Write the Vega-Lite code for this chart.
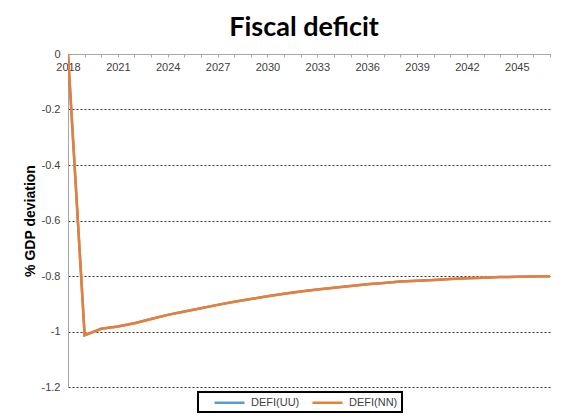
{
  "$schema": "https://vega.github.io/schema/vega-lite/v6.json",
  "width": 482,
  "height": 333,
  "autosize": "none",
  "padding": {"left": 68, "top": 54, "right": 34, "bottom": 33},
  "background": "white",
  "title": {
    "text": "Fiscal deficit",
    "font": "Lato",
    "fontSize": 27,
    "fontWeight": "bold",
    "color": "black",
    "anchor": "middle",
    "baseline": "bottom",
    "offset": 14,
    "dx": -5,
    "dy": 35
  },
  "config": {
    "view": {"stroke": null},
    "axis": {"labelFont": "Liberation Sans", "labelFontSize": 11, "labelColor": "#404040", "titleFont": "Liberation Sans"},
    "legend": {"labelFont": "Liberation Sans", "strokeWidth": 2}
  },
  "data": {
    "values": [
      {"year": 2018, "series": "DEFI(UU)", "value": 0},
      {"year": 2019, "series": "DEFI(UU)", "value": -1.013},
      {"year": 2020, "series": "DEFI(UU)", "value": -0.99},
      {"year": 2021, "series": "DEFI(UU)", "value": -0.982},
      {"year": 2022, "series": "DEFI(UU)", "value": -0.97},
      {"year": 2023, "series": "DEFI(UU)", "value": -0.955},
      {"year": 2024, "series": "DEFI(UU)", "value": -0.94},
      {"year": 2025, "series": "DEFI(UU)", "value": -0.928},
      {"year": 2026, "series": "DEFI(UU)", "value": -0.916},
      {"year": 2027, "series": "DEFI(UU)", "value": -0.904},
      {"year": 2028, "series": "DEFI(UU)", "value": -0.893},
      {"year": 2029, "series": "DEFI(UU)", "value": -0.883},
      {"year": 2030, "series": "DEFI(UU)", "value": -0.873},
      {"year": 2031, "series": "DEFI(UU)", "value": -0.864},
      {"year": 2032, "series": "DEFI(UU)", "value": -0.856},
      {"year": 2033, "series": "DEFI(UU)", "value": -0.849},
      {"year": 2034, "series": "DEFI(UU)", "value": -0.842},
      {"year": 2035, "series": "DEFI(UU)", "value": -0.836},
      {"year": 2036, "series": "DEFI(UU)", "value": -0.83},
      {"year": 2037, "series": "DEFI(UU)", "value": -0.825},
      {"year": 2038, "series": "DEFI(UU)", "value": -0.82},
      {"year": 2039, "series": "DEFI(UU)", "value": -0.817},
      {"year": 2040, "series": "DEFI(UU)", "value": -0.814},
      {"year": 2041, "series": "DEFI(UU)", "value": -0.811},
      {"year": 2042, "series": "DEFI(UU)", "value": -0.808},
      {"year": 2043, "series": "DEFI(UU)", "value": -0.806},
      {"year": 2044, "series": "DEFI(UU)", "value": -0.804},
      {"year": 2045, "series": "DEFI(UU)", "value": -0.803},
      {"year": 2046, "series": "DEFI(UU)", "value": -0.802},
      {"year": 2047, "series": "DEFI(UU)", "value": -0.801},
      {"year": 2018, "series": "DEFI(NN)", "value": 0},
      {"year": 2019, "series": "DEFI(NN)", "value": -1.013},
      {"year": 2020, "series": "DEFI(NN)", "value": -0.99},
      {"year": 2021, "series": "DEFI(NN)", "value": -0.982},
      {"year": 2022, "series": "DEFI(NN)", "value": -0.97},
      {"year": 2023, "series": "DEFI(NN)", "value": -0.955},
      {"year": 2024, "series": "DEFI(NN)", "value": -0.94},
      {"year": 2025, "series": "DEFI(NN)", "value": -0.928},
      {"year": 2026, "series": "DEFI(NN)", "value": -0.916},
      {"year": 2027, "series": "DEFI(NN)", "value": -0.904},
      {"year": 2028, "series": "DEFI(NN)", "value": -0.893},
      {"year": 2029, "series": "DEFI(NN)", "value": -0.883},
      {"year": 2030, "series": "DEFI(NN)", "value": -0.873},
      {"year": 2031, "series": "DEFI(NN)", "value": -0.864},
      {"year": 2032, "series": "DEFI(NN)", "value": -0.856},
      {"year": 2033, "series": "DEFI(NN)", "value": -0.849},
      {"year": 2034, "series": "DEFI(NN)", "value": -0.842},
      {"year": 2035, "series": "DEFI(NN)", "value": -0.836},
      {"year": 2036, "series": "DEFI(NN)", "value": -0.83},
      {"year": 2037, "series": "DEFI(NN)", "value": -0.825},
      {"year": 2038, "series": "DEFI(NN)", "value": -0.82},
      {"year": 2039, "series": "DEFI(NN)", "value": -0.817},
      {"year": 2040, "series": "DEFI(NN)", "value": -0.814},
      {"year": 2041, "series": "DEFI(NN)", "value": -0.811},
      {"year": 2042, "series": "DEFI(NN)", "value": -0.808},
      {"year": 2043, "series": "DEFI(NN)", "value": -0.806},
      {"year": 2044, "series": "DEFI(NN)", "value": -0.804},
      {"year": 2045, "series": "DEFI(NN)", "value": -0.803},
      {"year": 2046, "series": "DEFI(NN)", "value": -0.802},
      {"year": 2047, "series": "DEFI(NN)", "value": -0.801}
    ]
  },
  "mark": {"type": "line", "strokeWidth": 2.5, "clip": true},
  "encoding": {
    "x": {
      "field": "year",
      "type": "quantitative",
      "scale": {"domain": [2018, 2047], "nice": false, "zero": false},
      "axis": {
        "orient": "bottom",
        "offset": -333,
        "title": null,
        "values": [2018,2019,2020,2021,2022,2023,2024,2025,2026,2027,2028,2029,2030,2031,2032,2033,2034,2035,2036,2037,2038,2039,2040,2041,2042,2043,2044,2045,2046,2047],
        "labelExpr": "(datum.value - 2018) % 3 == 0 ? '' + datum.value : ''",
        "grid": false,
        "domainColor": "#A6A6A6",
        "tickColor": "#A6A6A6",
        "tickSize": 3,
        "labelPadding": 4,
        "labelOverlap": false,
        "labelFlush": false
      }
    },
    "y": {
      "field": "value",
      "type": "quantitative",
      "scale": {"domain": [-1.2, 0], "nice": false},
      "axis": {
        "values": [0, -0.2, -0.4, -0.6, -0.8, -1, -1.2],
        "labelExpr": "datum.value == 0 ? '0' : '-' + format(-datum.value, '.1~f')",
        "title": "% GDP deviation",
        "titleFontSize": 14,
        "titleFontWeight": "bold",
        "titleColor": "black",
        "titlePadding": 4,
        "grid": true,
        "gridColor": "black",
        "gridDash": [2, 2],
        "gridWidth": 0.8,
        "ticks": false,
        "domainColor": "#A6A6A6",
        "labelPadding": 8
      }
    },
    "color": {
      "field": "series",
      "type": "nominal",
      "scale": {"domain": ["DEFI(UU)", "DEFI(NN)"], "range": ["#5B9BD5", "#ED7D31"]},
      "legend": {
        "title": null,
        "orient": "none",
        "legendX": 130,
        "legendY": 338,
        "direction": "horizontal",
        "symbolType": "M0,0H6",
        "symbolSize": 100,
        "symbolOffset": 6,
        "symbolStrokeWidth": 2.5,
        "labelFontSize": 11,
        "labelColor": "#404040",
        "labelOffset": 30,
        "columnPadding": 0,
        "padding": 4,
        "strokeColor": "black",
        "fillColor": "white"
      }
    }
  }
}
